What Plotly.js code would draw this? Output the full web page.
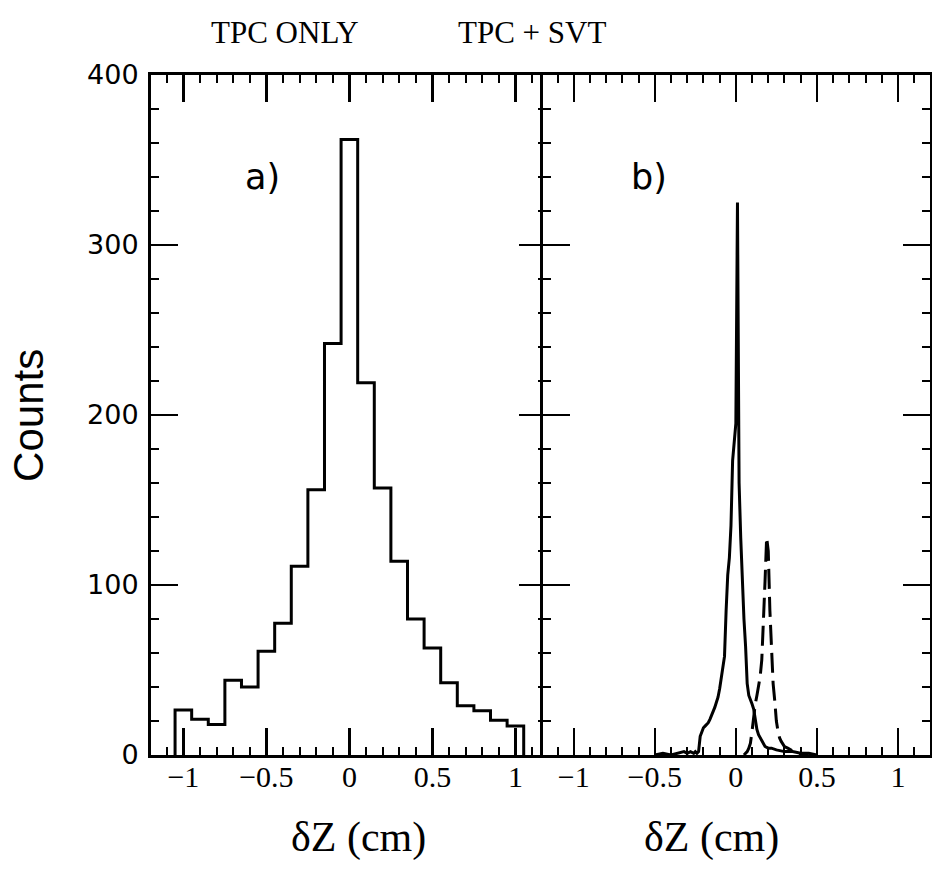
<!DOCTYPE html>
<html>
<head>
<meta charset="utf-8">
<script src="https://cdn.plot.ly/plotly-3.0.1.min.js"></script>
<style>html,body{margin:0;padding:0;background:#fff;}#chart{width:932px;height:882px;}</style>
</head>
<body>
<div id="chart"></div>
<script>
// ---- Data ----
// Panel a) TPC only: histogram, bin centers and counts (bin width 0.1 cm)
var binCentersA = [-1.0,-0.9,-0.8,-0.7,-0.6,-0.5,-0.4,-0.3,-0.2,-0.1,0.0,0.1,0.2,0.3,0.4,0.5,0.6,0.7,0.8,0.9,1.0];
var countsA     = [26.5,21,18,44,40,61,77.5,111,156,242,362,219,157,114,80,63,42.5,29,26,20.5,17];
var binWidthA = 0.1;

// Panel b) TPC + SVT: solid distribution
var xSolidB = [-0.50,-0.45,-0.40,-0.35,-0.32,-0.30,-0.28,-0.26,-0.25,-0.24,-0.23,-0.22,-0.21,-0.20,-0.19,-0.18,-0.17,-0.16,-0.15,-0.14,-0.13,-0.12,-0.11,-0.10,-0.09,-0.08,-0.07,-0.06,-0.05,-0.04,-0.03,-0.02,-0.01,0.00,0.01,0.02,0.03,0.04,0.05,0.06,0.07,0.08,0.09,0.10,0.11,0.12,0.13,0.14,0.15,0.16,0.17,0.18,0.20,0.22,0.25,0.30,0.35,0.40,0.45,0.50];
var ySolidB = [0,1,0,1,2,1,2,1,2,1,2,11,14,16,17,18,19,21,23,25,28,31,34,39,45,50,58,85,106,116,135,173,185,195,325,160,128,102,80,64,42,35,33,30,27,20,15,12,10,8,6,5,4,4,3,2,2,1,1,0];

// Panel b) dashed distribution
var xDashB = [0.05,0.06,0.07,0.08,0.09,0.10,0.11,0.12,0.13,0.14,0.15,0.16,0.17,0.18,0.19,0.20,0.21,0.22,0.23,0.24,0.25,0.26,0.27,0.28,0.29,0.30,0.32,0.34,0.36,0.38,0.40,0.45];
var yDashB = [0,1,2,4,7,14,24,30,35,40,46,56,76,102,128,120,85,58,42,32,20,14,10,8,6,5,4,3,2,1,0,0];

var xTickVals = [-1,-0.5,0,0.5,1];
var xTickText = ['\u22121','\u22120.5','0','0.5','1'];
var yTickVals = [0,100,200,300,400];
var yTickText = ['0','100','200','300','400'];

// Build step outline for the histogram from bin centers
function stepOutline(centers, counts, w){
  var xs = [], ys = [];
  xs.push(centers[0]-w/2); ys.push(0);
  for (var i=0;i<centers.length;i++){
    xs.push(centers[i]-w/2); ys.push(counts[i]);
    xs.push(centers[i]+w/2); ys.push(counts[i]);
  }
  xs.push(centers[centers.length-1]+w/2); ys.push(0);
  return {x:xs, y:ys};
}
var stepA = stepOutline(binCentersA, countsA, binWidthA);

var traces = [
  {x: stepA.x, y: stepA.y, xaxis:'x', yaxis:'y', mode:'lines', line:{color:'#000', width:3}, hoverinfo:'skip', showlegend:false},
  {x: xSolidB, y: ySolidB, xaxis:'x2', yaxis:'y2', mode:'lines', line:{color:'#000', width:3}, hoverinfo:'skip', showlegend:false},
  {x: xDashB, y: yDashB, xaxis:'x2', yaxis:'y2', mode:'lines', line:{color:'#000', width:3, dash:'20px,8px'}, hoverinfo:'skip', showlegend:false}
];

var xTickFont = {family:'Liberation Serif', size:30, color:'#000'};
var yTickFont = {family:'DejaVu Sans', size:27, color:'#000'};

function xAxis(domain, range, anchor){
  return {
    domain: domain, range: range, anchor: anchor,
    tickmode:'array', tickvals: xTickVals, ticktext: xTickText,
    ticks:'inside', ticklen:27, tickwidth:2.5, tickcolor:'#000',
    minor:{tickmode:'linear', tick0:0, dtick:0.1, ticks:'inside', ticklen:8, tickwidth:2, tickcolor:'#000', showgrid:false},
    mirror:'ticks', showline:true, linewidth:3, linecolor:'#000',
    showgrid:false, zeroline:false, tickfont: xTickFont, ticklabelstandoff: -7
  };
}
function yAxis(anchor, showLabels){
  return {
    domain:[0,1], range:[0,400], anchor: anchor,
    tickmode:'array', tickvals: yTickVals, ticktext: yTickText, showticklabels: showLabels,
    ticks:'inside', ticklen:27, tickwidth:2.5, tickcolor:'#000',
    minor:{tickmode:'linear', tick0:0, dtick:20, ticks:'inside', ticklen:8, tickwidth:2, tickcolor:'#000', showgrid:false},
    mirror:'ticks', showline:true, linewidth:3, linecolor:'#000',
    showgrid:false, zeroline:false, tickfont: yTickFont, ticklabelstandoff: 4
  };
}

var titleFont = {family:'Liberation Serif', size:31, color:'#000'};
var xTitleFont = {family:'Liberation Serif', size:42, color:'#000'};
var panelFont = {family:'DejaVu Sans', size:35, color:'#000'};

var layout = {
  width:932, height:882,
  margin:{l:151, r:2, t:75, b:127, pad:0},
  paper_bgcolor:'#fff', plot_bgcolor:'#fff',
  showlegend:false,
  xaxis: xAxis([0,0.507], [-1.195,1.184], 'y'),
  yaxis: yAxis('x', true),
  xaxis2: xAxis([0.5032,1], [-1.190,1.198], 'y2'),
  yaxis2: yAxis('x2', false),
  annotations:[
    {text:'TPC ONLY', xref:'paper', yref:'paper', x:0.172, y:1.063, showarrow:false, font:titleFont, xanchor:'center', yanchor:'middle'},
    {text:'TPC + SVT', xref:'paper', yref:'paper', x:0.489, y:1.063, showarrow:false, font:titleFont, xanchor:'center', yanchor:'middle'},
    {text:'a)', xref:'x', yref:'y', x:-0.526, y:340, showarrow:false, font:panelFont, xanchor:'center', yanchor:'middle'},
    {text:'b)', xref:'x2', yref:'y2', x:-0.536, y:340, showarrow:false, font:panelFont, xanchor:'center', yanchor:'middle'},
    {text:'\u03b4Z (cm)', xref:'paper', yref:'paper', x:0.266, y:-0.122, showarrow:false, font:xTitleFont, xanchor:'center', yanchor:'middle'},
    {text:'\u03b4Z (cm)', xref:'paper', yref:'paper', x:0.720, y:-0.122, showarrow:false, font:xTitleFont, xanchor:'center', yanchor:'middle'},
    {text:'Counts', xref:'paper', yref:'paper', x:-0.158, y:0.5, textangle:-90, showarrow:false, font:{family:'Liberation Sans', size:42, color:'#000'}, xanchor:'center', yanchor:'middle'}
  ]
};

Plotly.newPlot('chart', traces, layout, {displayModeBar:false, staticPlot:true});
</script>
</body>
</html>
